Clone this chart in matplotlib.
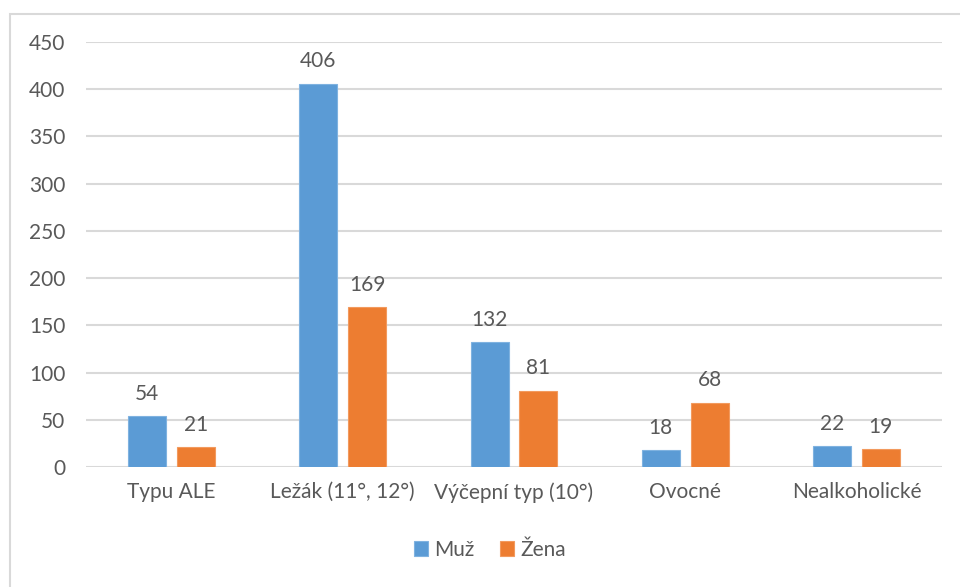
import matplotlib.pyplot as plt
import numpy as np
from matplotlib.patches import Rectangle

# data
categories = ['Typu ALE', 'Ležák (11°, 12°)', 'Výčepní typ (10°)', 'Ovocné', 'Nealkoholické']
muz = [54, 406, 132, 18, 22]
zena = [21, 169, 81, 68, 19]

plt.rcParams['font.family'] = ['Lato', 'DejaVu Sans']
text_col = '#595959'
grid_col = '#D9D9D9'
fs = 15

fig = plt.figure(figsize=(9.6, 5.87), dpi=100)
fig.patches.append(Rectangle((10 / 960, -0.1), 1.2, 1 - 14 / 587 + 0.1,
                             transform=fig.transFigure, fill=False,
                             edgecolor=grid_col, linewidth=1.5))
ax = fig.add_axes([86 / 960, 1 - 467 / 587, (942 - 86) / 960, (467 - 42) / 587])

x = np.arange(len(categories))
w = 0.222
off = 0.143
b1 = ax.bar(x - off, muz, w, color='#5B9BD5', edgecolor='#7FB2E0', linewidth=0.8, label='Muž', zorder=3)
b2 = ax.bar(x + off, zena, w, color='#ED7D31', edgecolor='#F29A5E', linewidth=0.8, label='Žena', zorder=3)

for bars, vals in ((b1, muz), (b2, zena)):
    for r, v in zip(bars, vals):
        ax.annotate(str(v), (r.get_x() + r.get_width() / 2, v), xytext=(0, 9),
                    textcoords='offset points', ha='center', va='bottom',
                    fontsize=fs, color=text_col)

ax.set_xlim(-0.5, len(categories) - 0.5)
ax.set_ylim(0, 450)
ax.set_yticks(range(0, 451, 50))
ax.set_xticks(x)
ax.set_xticklabels(categories)
ax.yaxis.grid(True, color=grid_col, linewidth=1.5, zorder=0)
for s in ax.spines.values():
    s.set_visible(False)
ax.tick_params(axis='both', length=0, labelsize=fs, labelcolor=text_col)
ax.tick_params(axis='y', pad=15)
ax.tick_params(axis='x', pad=11)

ax.legend(loc='center', bbox_to_anchor=(490 / 960, 1 - 550 / 587), bbox_transform=fig.transFigure,
          ncol=2, frameon=False, fontsize=fs, labelcolor=text_col,
          handlelength=0.7, handleheight=0.7, handletextpad=0.3, columnspacing=1.2)

fig.savefig('out.png', dpi=100)
